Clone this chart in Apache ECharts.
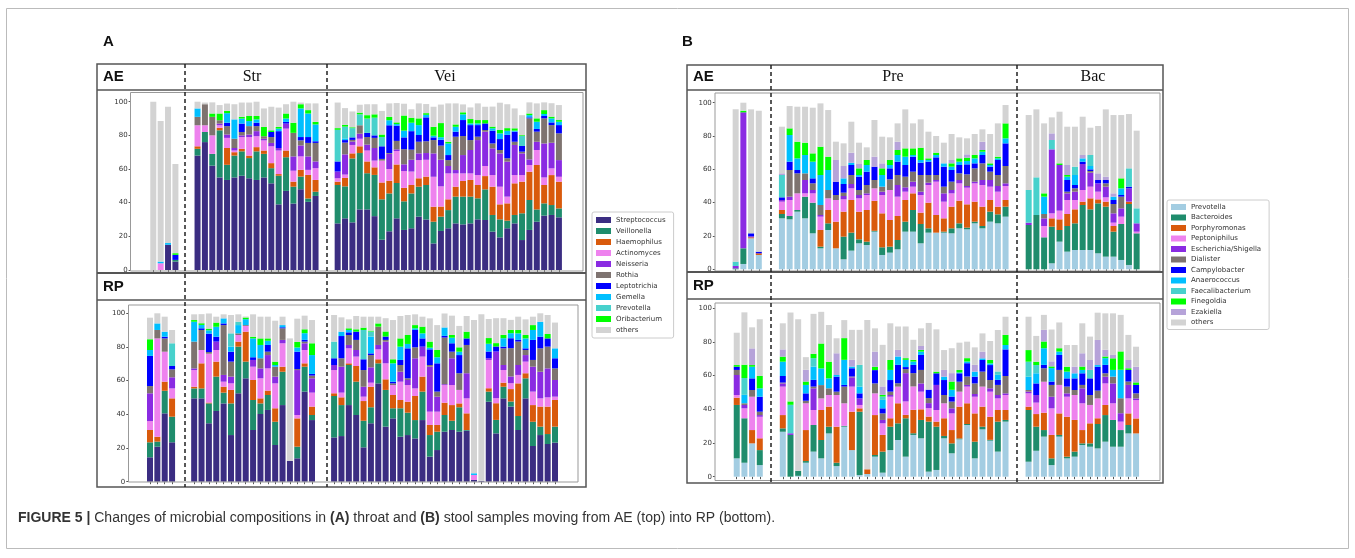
<!DOCTYPE html>
<html><head><meta charset="utf-8">
<script src="https://cdn.jsdelivr.net/npm/echarts/dist/echarts.min.js"></script>
<style>html,body{margin:0;padding:0;background:#fff;}#c{width:1355px;height:558px;}</style>
</head><body><div id="c"></div>
<script>
// ---------- legend names / colours ----------
const A_NAMES = ['Streptococcus','Veillonella','Haemophilus','Actinomyces','Neisseria','Rothia','Leptotrichia','Gemella','Prevotella','Oribacterium','others'];
const A_COLORS = ['#3b2d82','#1f8c6c','#d95a0c','#ee82ee','#8a2be2','#7e7370','#0000ff','#00bfff','#48d1cc','#00ff00','#d3d3d3'];
const B_NAMES = ['Prevotella','Bacteroides','Porphyromonas','Peptoniphilus','Escherichia/Shigella','Dialister','Campylobacter','Anaerococcus','Faecalibacterium','Finegoldia','Ezakiella','others'];
const B_COLORS = ['#a3cde2','#1f8c6c','#d95a0c','#ee82ee','#8a2be2','#7e7370','#0000ff','#00bfff','#48d1cc','#00ff00','#b6a3d9','#d3d3d3'];

// ---------- Panel A (throat) : [Strep,Veil,Haem,Actino,Neis,Rothia,Lepto,Gemella,Prev,Orib,others] ----------
const A_AE_ctrl = [
 [0,0,0,0,0,0,0,0,0,0,100],[0,0,0,4,0,0,0,1,0,0,83.5],[15,0,0,0,0,0,0,1,0,0,81],[5,1,0,0,0,0,3,0,0,1,53]];
const A_AE_Str = [
 [68,4,1.5,12.5,0,5,0,5,0,0,4],[76,6,0,4,0,12.5,0,0,0,0,1],[62,7,0,11,0,11,0,0,0,2,6.6],[55,28,1.5,1.5,1,2,0,0,0,4,5],
 [53.5,9,10,6,2,5,2,5.7,0,1.3,4.4],[55,13,2,1,1.5,5.5,0,11.5,0,0,9],[56,14.5,1.5,7,1,2,5,3,0,1,8.5],[54.5,12,1.5,11,1.5,5,0,3,0,3,8],
 [53.5,17,2.5,6.5,3,3,2,2,0,2,8.5],[55,14,2,6,1,1.5,0,0,0,5.5,11],[51.5,9,3,10,2,3.5,3,0,0,1,14],[39,17,1,14,1.5,0,10,1.5,0,1,11.5],
 [47,20,4,13,3,0,1,2,0,3,5.5],[39.5,10,3,6.5,8.5,14,0,0,0,6,12.5],[48,7.5,4,8,6.5,3,2,17,0,2.5,1],[40.5,2,14,3,8,8,3.5,14,0,2,4],
 [44,2.5,7,7,4,11,1,10,0,1.5,11]];
const A_AE_Vei = [
 [27.7,22.8,2,2,4,0,6,0,18.8,1,15.2],[30.7,19,5,2,12,7,1.5,1,7,1,10],[28.3,38,3,5,2,1,1.5,0,5.5,0.5,9.4],[36,33.5,4,4.5,3,5,0,0,6.5,1,4.7],
 [36,21.5,7,6.5,3.5,4.5,2.5,0,8.5,2,6.5],[32,24.5,4.5,4,7.5,6,1.5,0,10.5,2,6],[18,24,10,13,0,1,7.5,0,5.5,1.5,14],[23,22.5,7.5,7,9,0.5,16.5,3,0,2,8],
 [30.7,21,11,8,1,5,9,1,0,1,11.5],[23.8,17,8,10,4,9,7,4,0,9,7],[24.8,20.7,5,8,7,6,11,5,0,3,5],[31.7,17.8,5,10.8,4,6.9,4,5.9,0,4,8.9],
 [30,20.5,5,10,4,7,14.2,1.5,0,1,5.4],[15.8,12.9,8.9,17.8,13.9,7.9,1.6,1,0,5.3,11.9],[23.2,8.5,6,12,15.8,8.4,3.5,1.5,0,8.4,11],[24.8,10.8,6.4,15.4,4.4,3.5,3,6.9,0,1,22.8],
 [27.7,15.9,5.9,7.9,2,19.8,3,2.9,0,1.4,12.5],[27.1,16.5,9.3,4.5,10.9,11.3,9.5,3.4,0,1.2,4.7],[27.7,15.9,9.9,3.9,13.9,5.9,8.9,1,0,2.6,6.9],[30.1,12.5,7.9,5.9,20.8,2,6.9,1,0,2,9.9],
 [29.7,18.2,7.9,6,20.4,1,3.9,0,0,2,7.9],[22.8,9.9,16.8,6.9,15.9,2.9,7.6,1.4,0,1,11.9],[19.4,10.7,8.9,10.5,19.8,2,6.5,3.4,0,2,16.2],[24.8,4.5,10.3,4,20.8,2,13.9,2.4,0,1.6,14.2],
 [27.7,5,18.8,4.9,17.9,1.9,6,0.6,0,1.4,11.8],[17.8,15.9,18.8,3.9,12.9,1,3.4,0,5.9,0.5,11.9],[23.8,17.8,16.8,4,3.3,24.4,0.6,1.3,0,1,6.6],[28.7,7.3,26.4,8.9,4.9,6,1.6,4.3,0,2,8.9],
 [32.3,7.3,10.9,4.5,20.2,14.9,1.4,1.2,0,2.3,4.6],[32.7,5.9,17.8,4,15.2,10.5,1.6,2.4,0,1,8],[31.3,5.3,15.9,2.9,9.9,15.9,4.9,2,0,1,8.9]];
const A_RP_ctrl = [
 [14.5,8.9,7.3,5.3,16.5,4.3,17.9,3.5,0,6.4,12.8],[20.8,3,2.9,58.4,0,5,0,3.9,0,0,6],[40.6,13.4,5.4,17.8,0,7.9,1,3,0,0,8.9],[23.4,15.2,10.9,5.9,6.6,4.7,2,0,13.5,0,7.9]];
const A_RP_Str = [
 [49.5,5.9,1,9.9,1,15.9,0,11.8,0,1,3.4],[49.5,5.9,14.9,7.9,0,11.9,1,2,0,1,5.4],[34.7,11.8,0.5,29,0,1,10.9,2,0,1,9],[42,20.4,8.9,6.9,5,0,2.9,5.9,0,2.5,3.5],
 [46.5,6.4,3.5,3,4,29.6,1,3,0,0,2.4],[27.7,18.8,8,3.9,4,8.9,5.9,3,7.9,0,10.9],[52.5,27.7,3,3.9,0,1,0,4.9,2,0,4.4],[61.4,9.9,17.8,3.4,0,0.5,0,3.5,0,1,0.6],
 [30.7,17.8,11.9,7.9,4,0,1.6,11.2,0,1,13.3],[40.2,6.3,3,11.9,5.9,6,0,7.9,0,3.9,12.9],[42.6,8.9,2.6,13.2,7.9,2,4,2.5,0,1.4,12.9],[21.8,13.8,8,14.8,4,5.9,0,1,0,2,24.3],
 [45.5,19.8,3,13.9,2,6.9,0.6,1.3,0,0,5],[12.3,0,0,0,0,0,0,0,0,0,72.8],[13.9,6.9,16.8,2,26.7,0.6,10.3,2.5,0,3.3,13.8],[53.5,14.8,2,7.9,4,1,1,4,0,2.3,8.1],
 [36.6,3,5,8.3,8.5,1.6,1,11.2,0,7,13.8]];
const A_RP_Vei = [
 [26.3,24.6,1.6,13.8,3,0,4,0,9.9,0,15.8],[27.1,18.4,4.6,2.8,15.4,5,13.2,2.6,0,0,8.5],[45.5,23.8,1,8.9,2,5.9,1.6,1.4,0,1,5.3],[39.6,19.8,9.3,5.6,3.9,6,4.9,0,0,1.4,7.9],
 [20.4,15.8,11.7,2.6,5.9,9.9,6.4,0,17.4,1.4,6.5],[34.7,9.5,12.2,2.4,9.1,7.3,1,10,3,0.5,8.3],[58.4,11.9,2.4,5.9,2.6,10.9,0,0,0,1.9,4],[32.7,21.8,6.3,9.5,12.9,1,2,0,0,3,7.9],
 [37.6,6,7.9,5.9,0,1,1,10.9,0,2.4,23.3],[26.7,16.9,4.9,10.9,5.9,4,3,7.9,0,4.9,13.3],[27.7,13.3,6.5,9.9,3,1,17.8,2.6,0,5.3,11.9],[25.7,10.9,14.3,4.5,17.9,6.5,10.3,1,0,1.9,6.4],
 [36.6,16.9,8.9,11.9,5.9,0,4.9,3,0,4,5.9],[14.9,12.8,6,7.9,26.7,1,9.3,1,0,3.6,13.8],[18.8,10.9,4,7.9,8.9,3,16.8,3.6,0,4.3,14.8],[29.7,9.9,7.3,10.5,0.5,27.7,1,5,0,0,8.3],
 [30.7,5.5,9.3,11.9,15.9,3.9,5,3.3,0,1.6,11.5],[29.7,14.5,2.3,8,0,9.9,10.8,2,0,2.6,12.7],[30.3,0.4,9.9,8.9,14.9,16.8,3.9,0,0,4,9.3],[1,0,0,3,0,0,0,1,0,0,91],
 [0.5,0,0,0,0,0,0,0,0,0,99],[47.5,6,2,16.8,1,0,4,4.6,0,3.4,11.3],[28.7,8,9.9,3,27.7,0,3,0,0,2,14.8],[49.5,6.9,2.4,7.5,3,9.9,1,5,0,2,9.9],
 [44.6,3,7.4,3.5,4,16.8,5.9,3,0,2,5.9],[30.7,8.3,19.4,5,5.9,13.9,1,3.9,0,2,7.9],[49.5,11.9,3,6.9,3.9,3,1,5.9,0,2,9.3],[21.2,14.4,9.9,8,14.8,4,11.9,5.9,0,2.9,5],
 [27.7,5,11.9,4.9,15.8,13.9,6.9,8.9,0,0,5],[22.4,5.9,16.3,5.5,17.2,12.9,4.9,0,0,2.6,11.3],[23.2,9.5,15.8,2,9.9,6.9,6,5.9,0,0,15.3]];

// ---------- Panel B (stool) : [Prev,Bact,Porph,Pept,Esch,Dial,Campy,Anaero,Faecal,Fine,Ezak,others] ----------
const B_AE_ctrl = [
 [0,0.5,0,0,1.5,0,0,0,2.6,0,0,91.4],[3.2,9.4,0,0,81.6,0,0,0,0,1,0,4.8],[18.6,0,0.6,0,0.6,0,1.8,0,0,0,0,74.4],[8.6,0,1,0,0,0,1,0,0,0,0,84.6]];
const B_AE_Pre = [
 [30.6,2.6,2.4,5,1,0,1.6,0,13.4,0,1,28],[30,2,0,9.6,2,16,5,16,0,4,0,13.4],[34.6,1,0,10,0,12,2,7,0,10,0,21],[30.6,13,0,2,8,4,0,11,0,7.4,0,21.6],
 [21.6,18.4,0,5.6,2,4,3,10,0,5,0,27.4],[12.6,1,10,8,1,6,0,18,0,17,0,26],[23.6,4,8,7,0,5,0,12,0,8,0,28],[12.6,0,16,13,0,3,8,0,0,0,13,11],
 [6,13.6,15,7.4,2,2,5.2,3.4,0,0,7.4,13.6],[11.2,10.8,19.6,7,2.6,5.4,6,1.4,0,0,6,18.6],[15.6,2.4,16.6,8,2,3,8,1,0,4,2.6,12.8],[14.6,2,19,9,1,5,8,4,0,3,0,7.6],
 [22.6,0.5,18,7.5,0,5,8,0,0,0,6,22],[8.6,4.6,20.4,11,2,3,0,7,0,4,3,16],[10,3.6,16,18,0,6.4,6.6,2,0,3,0,13.6],[12,5.6,14.4,11.6,7,6,8,4,0,3,5,11],
 [22.6,6,13,5,2.6,6.4,7,5,0,5,0,23.4],[22.6,13,10,4,3,6,9,1,0,4,0,15],[15.6,11.6,6.8,10.6,2,10,7.4,1.6,0,7.4,0,17],[22,2.6,15.4,10.6,1.4,4.6,8,1,0,1,0,16],
 [22,0,10.6,20,1,3,10.6,1.4,0,1.4,0,10],[22,0.6,8,10,5,4,12,2,0,0,0,12.4],[21.6,3,13,8,2,5,7,2,0,2,2,15.6],[24.6,3,13.6,10.4,2,4,5,2,0,2,0,12.6],
 [24,1,14,10,1,7,6,2,0,2,2,9.6],[27.6,1,12,11,1,8,3,3,0,2,0,12.6],[24.6,1.4,11.6,13,3,10,5,2,0,1,5,7.4],[28.6,6,7,8,4,5,3,1,0,1,0,17.6],
 [27.6,5.4,4.6,9,3.4,6.6,9,1,0,1,0,20],[31.6,6,4,8.4,1.6,10.4,13.6,3,0,9,0,11]];
const B_AE_Bac = [
 [0,26.6,0,0,1.4,0,0,0,19.6,0,0,45],[0,32.6,0,0,0,0,0,0,22.6,0,0,40.8],[0,19.2,0,6.8,4.6,2.6,0,10.4,0,2,0,42],[3.6,22,5,3,38.4,0,0,0,5.6,0,4,9.6],
 [16.6,7,6.4,5.2,27.4,0,0,0,0,1,0,31],[10.6,15.4,7.2,8.4,4,1,7,2,0,1,6,23],[11.6,16,8.4,5.6,5,2,2,6,5,0,0,24],[11.6,27,2,7,15.6,0,1.4,2,0,0,2,23],
 [11.6,24.4,6.6,7,8.4,1,1,2,6.6,0,0,16.4],[9.6,30,2.4,4.6,5,0,2,0,0,0,4,28.4],[7.6,30,3,2.6,6.4,2,2,0,0,0,2,40.4],[7.6,15,3.4,2,5.6,5.6,2.4,2,0,0,2,47],
 [5.6,21.6,0,4.4,5,7,1,4,0,6,0,38],[2.6,36.6,1.4,0,8,0,1,0,11,0,0,32.6],[0,21.6,0,1,5,0,0,0,9,0,0,46.6]];
const B_RP_ctrl = [
 [10.9,31.7,4.3,1.6,11.9,3,1.9,0,0,1,0,19.2],[8.3,26.4,0,5.9,2,1,0,5,10,7.9,0,31.1],[19.8,0,7.9,19.8,0,4,6.9,6.9,0,1,9.9,12.5],[6.9,8.9,7,12.8,1,2,8.9,5,0,7.3,0,33.7]];
const B_RP_Pre = [
 [26.7,2,7.9,16.9,1.9,0.5,3.9,8.5,0,3,4.3,15.5],[0,24.8,0,0,1,0,0,0,16.9,2,0,52.8],[0.5,3,0,0,0,0,0,0,0,0,0,90],[8.3,1,18.4,15.9,0,1.5,4.4,5,0,2,7,7.5],
 [14.9,15.8,0,8.9,12.9,1,4,7.9,5,2.6,0,23.7],[10.9,10.9,17.8,6.9,0,7.9,0,9.9,0,14.8,0,18.8],[25.7,4,11.9,6.9,0,4,0,5.9,0,9.9,0,21.8],[6.3,2,21.4,18.8,0,2,8.9,1,0,0,12.9,8.9],
 [29.7,0.5,0,13.4,0,9.9,1,14.9,0,12.9,0,10.7],[15.8,0,22.8,14.9,5.5,0.5,4.9,1,0,0,4,17.8],[1,37.6,2,2,3.9,0,3,4,12.9,0,0,20.8],[1.6,0,2.8,0,0,0,0,0,0,0,0,88.6],
 [11.9,1,23.7,12.9,0,5.9,7.9,0,0,2,9,13.8],[2.4,12.5,9.9,6.9,2,3.9,3,5,2,1,5,24.7],[15.8,13.9,5,12.8,1,2,6.9,6,0,5.9,0,21.8],[21.8,9.9,11.9,9.9,0,2,10.9,5,0,0,3.9,13.9],
 [11.9,22.8,2,8,16.8,2.4,1.2,4.3,0,1,0,18.8],[24.8,1,13.9,13.9,0,7.9,4.9,2,0,1,0,11.9],[22.8,10.9,6.3,10.5,4.9,8,8.9,2,0,1,2.3,10.5],[3,29.7,3,5,3,3,5,0,0,0,0,39.6],
 [4,25.7,3,6.9,14.9,0,6.9,0,0,1,0,25.1],[22.8,1.4,10.5,8.9,0,4.9,8.9,2,0,0,4,11.8],[13.9,5.9,7.9,9.9,3,4,3,4,0,4.9,5,14.8],[22.2,0.5,18.9,8.9,0,5.9,5,0.5,0,1.5,0,16.2],
 [30.7,0.6,12.3,9.9,1,5,7.9,1,0,2,0,9.8],[10.9,9.9,16.8,9.9,1.6,6.3,4,3,0,0,4,10.4],[28.1,1.6,11.9,11.9,0,8.9,6.9,1,0,0,4,10.8],[21.4,0.5,13.7,14.9,2,4.9,8.9,1,0,2,0,11.3],
 [14.9,17.8,6.9,6.9,2,6,3,3,2,0,0,24.6],[32.7,1,5.9,8.9,1,10.3,15.8,2.6,0,6,0,10.8]];
const B_RP_Bac = [
 [8.9,30.7,2,7.9,1,1,0,7.9,8.9,6.9,0,19.8],[15.4,14.3,7.5,6.8,4.5,0,6.9,6,4.9,2,0,15.3],[23.8,3.9,10.3,18.4,0,8,2,9.9,0,4,6.9,8.9],[6.9,4,13.9,15.8,6.9,7,2,8,0,1,3,18.9],
 [23.8,1,12.8,16.9,0,8.9,8.9,2,0,2,0,15.3],[10.9,1,23.7,11.9,2,4,4.9,4,0,2.9,0,12.9],[11.9,3,18.8,14.8,0,3,6.9,3,0,0,4,12.8],[18.8,1,7.9,15.9,8.9,2,6.9,2,0,2,7.9,17.8],
 [17.8,2,11.9,10.9,0,5.9,9.9,0,5,0,5.9,13.9],[16.8,14.5,3.4,11.8,0,4.6,14.2,1,0,0,14.9,16.2],[20.8,15.8,6,12.8,4,2,5,4,0,1,4,21.6],[17.8,15.9,0,9.9,11.8,4,0,4,0,6.9,2,24.7],
 [17.8,9.9,0,5,5,8.9,0,16.9,0,10.9,0,21.7],[25.7,5,6.9,8.9,8,2,6.9,0,0,1,4.9,14.9],[25.7,0,8.9,10.9,1,3,5,0,0,1.5,9.3,11.9]];

const Y_TICKS = [0,20,40,60,80,100];
const GAP = 2; // empty sample slots between groups

// ---------- helpers ----------
function buildSlots(groups){
  const s=[]; groups.forEach((g,i)=>{ if(i>0) for(let k=0;k<GAP;k++) s.push(null); g.forEach(r=>s.push(r)); }); return s;
}
const rows = [
  {slots: buildSlots([A_AE_ctrl,A_AE_Str,A_AE_Vei]), names:A_NAMES, colors:A_COLORS, suffix:'',  grid:{left:149.6, top:101.7, width:413, height:168.3}, off:19},
  {slots: buildSlots([A_RP_ctrl,A_RP_Str,A_RP_Vei]), names:A_NAMES, colors:A_COLORS, suffix:'',  grid:{left:146.3, top:313.3, width:412.4, height:168.4}, off:18},
  {slots: buildSlots([B_AE_ctrl,B_AE_Pre,B_AE_Bac]), names:B_NAMES, colors:B_COLORS, suffix:' ', grid:{left:731.8, top:102.7, width:408.7, height:166.6}, off:17},
  {slots: buildSlots([B_RP_ctrl,B_RP_Pre,B_RP_Bac]), names:B_NAMES, colors:B_COLORS, suffix:' ', grid:{left:732.9, top:308.3, width:407, height:168.4}, off:18}
];

const grids=[], xAxes=[], yAxes=[], series=[];
rows.forEach((r,i)=>{
  grids.push(Object.assign({outerBoundsMode:'none', containLabel:false}, r.grid));
  const cats = r.slots.map((s,k)=> s? ('s'+k) : ('g'+k));
  xAxes.push({type:'category', gridIndex:i, data:cats, boundaryGap:true,
    axisLine:{show:false}, axisLabel:{show:false}, splitLine:{show:false},
    axisTick:{show:true, alignWithLabel:true, length:2.5, lineStyle:{color:'#555', width:1},
      interval:(idx)=> r.slots[idx]!=null }});
  yAxes.push({type:'value', gridIndex:i, min:0, max:100, interval:20, offset:r.off,
    axisLine:{show:false}, splitLine:{show:false},
    axisTick:{show:true, length:2, lineStyle:{color:'#555'}},
    axisLabel:{fontSize:7, color:'#333', margin:3, fontFamily:'DejaVu Sans'}});
  r.names.forEach((nm,k)=>{
    series.push({type:'bar', name:nm+r.suffix, xAxisIndex:i, yAxisIndex:i, stack:'st'+i,
      barWidth:6, itemStyle:{color:r.colors[k]}, silent:true, animation:false,
      data: r.slots.map(s=> s? s[k] : '-')});
  });
});

// ---------- decorations ----------
const G=[];
function rect(x,y,w,h,c,lw){G.push({type:'rect',shape:{x,y,width:w,height:h},style:{fill:null,stroke:c,lineWidth:lw},z:10,silent:true});}
function line(x1,y1,x2,y2,c,lw,dash){G.push({type:'line',shape:{x1,y1,x2,y2},style:{stroke:c,lineWidth:lw,lineDash:dash||null},z:11,silent:true});}
function text(x,y,t,font,align,fill){G.push({type:'text',x,y,style:{text:t,font,textAlign:align||'left',textVerticalAlign:'middle',fill:fill||'#111'},z:12,silent:true});}

// whole-figure frame
rect(6.5,8.5,1342,540,'#bbb',1);
// Panel labels
text(103,42,'A','bold 15px "Liberation Sans", Arial','left');
text(682,42,'B','bold 15px "Liberation Sans", Arial','left');
// Panel A frame
rect(97,64,489,423,'#555',1.5);
line(97,90,586,90,'#555',1.5);
line(97,273,586,273,'#555',2);
line(97,300,586,300,'#555',1.5);
rect(130.5,92.5,452.5,178.5,'#999',1);
rect(128.5,305,449.5,177,'#999',1);
line(185,64,185,487,'#222',1.5,[4,3]);
line(327,64,327,487,'#222',1.5,[4,3]);
text(103,77,'AE','bold 15px "Liberation Sans", Arial');
text(103,287,'RP','bold 15px "Liberation Sans", Arial');
text(252,77,'Str','16px "Liberation Serif", "Times New Roman", serif','center');
text(445,77,'Vei','16px "Liberation Serif", "Times New Roman", serif','center');
// Panel B frame
rect(687,65,476,418,'#555',1.5);
line(687,90,1163,90,'#555',1.5);
line(687,272,1163,272,'#555',2);
line(687,299,1163,299,'#555',1.5);
rect(715,93,445,178,'#999',1);
rect(715,303,445,177.5,'#999',1);
line(771,65,771,483,'#222',1.5,[4,3]);
line(1017,65,1017,483,'#222',1.5,[4,3]);
text(693,77,'AE','bold 15px "Liberation Sans", Arial');
text(693,286,'RP','bold 15px "Liberation Sans", Arial');
text(893,77,'Pre','16px "Liberation Serif", "Times New Roman", serif','center');
text(1093,77,'Bac','16px "Liberation Serif", "Times New Roman", serif','center');
// caption
G.push({type:'text',x:18,y:518,z:12,silent:true,style:{
  text:'{b|FIGURE 5 |} Changes of microbial compositions in {b|(A)} throat and {b|(B)} stool samples moving from AE (top) into RP (bottom).',
  font:'14px "Liberation Sans", Arial', fill:'#333', textVerticalAlign:'middle',
  rich:{b:{fontWeight:'bold', fontSize:14, fontFamily:'"Liberation Sans", Arial', fill:'#333'}}}});

const legendCommon = {orient:'vertical', icon:'rect', itemWidth:15, itemHeight:6,
  borderColor:'#ccc', borderWidth:1, borderRadius:2, backgroundColor:'#fff', selectedMode:false,
  textStyle:{fontSize:7, fontFamily:'DejaVu Sans', color:'#333', lineHeight:8},
  formatter:(n)=>n.trim()};

const option = {
  animation:false,
  backgroundColor:'#fff',
  grid:grids, xAxis:xAxes, yAxis:yAxes, series:series,
  legend:[
    Object.assign({}, legendCommon, {left:592, top:212, itemGap:3, padding:[4,8,4,4], data:A_NAMES}),
    Object.assign({}, legendCommon, {left:1167, top:200, itemGap:2.5, padding:[3,8,3,4], data:B_NAMES.map(n=>n+' ')})
  ],
  graphic:G
};
const chart = echarts.init(document.getElementById('c'), null, {renderer:'canvas'});
chart.setOption(option);
</script>
</body></html>
